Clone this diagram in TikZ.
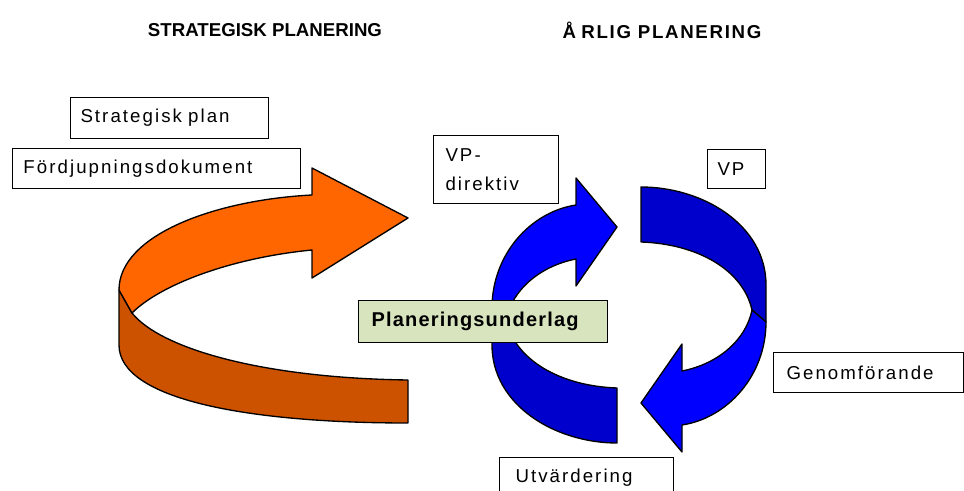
\documentclass[tikz,border=0pt]{standalone}
\usepackage{fontspec}
\setmainfont{Liberation Sans}
\newfontfamily\boxfont[LetterSpace=11]{Liberation Sans}
\newfontfamily\basisfont[LetterSpace=6]{Liberation Sans}
\newfontfamily\arligfont[LetterSpace=9]{Liberation Sans}
\usetikzlibrary{positioning}
\definecolor{orangelight}{RGB}{255,102,0}
\definecolor{orangedark}{RGB}{204,82,0}
\definecolor{bluelight}{RGB}{0,0,255}
\definecolor{bluedark}{RGB}{0,0,204}
\definecolor{underlag}{RGB}{215,228,189}
\tikzstyle{heading} = [font=\fontsize{14}{16}\selectfont\bfseries]
\tikzstyle{docbox} = [rectangle, draw, line width=0.75pt, fill=white, anchor=north west, align=left, font=\boxfont\fontsize{14}{22}\selectfont]
\tikzstyle{basisbox} = [docbox, fill=underlag, font=\basisfont\fontsize{15}{17}\selectfont\bfseries]
\tikzstyle{band} = [draw, line width=1pt, line join=round]

\begin{document}
\begin{tikzpicture}[x=0.75pt, y=-0.75pt]
        \useasboundingbox (0,0) rectangle (964,491);

        % Arrows
        \draw [band, fill=orangedark] (119,290) -- (119,345) .. controls (119,400) and (250,423) .. (408,423) -- (408,380) .. controls (260,378) and (160,348) .. (132,313) -- cycle;
        \draw [band, fill=orangelight] (312,195) -- (312,168) -- (408,218) -- (312,278) -- (312,250) .. controls (230,258) and (160,285) .. (132,313) -- (119,290) .. controls (119,235) and (215,200) .. (312,195) -- cycle;
        \foreach \ang in {0,180} {
            \begin{scope}[rotate around={\ang:(629,315)}]
                \draw [band, fill=bluedark] (492,308) -- (492,345) .. controls (492,405) and (555,443) .. (617,443) -- (617,388) .. controls (560,386) and (515,360) .. (506,320) -- cycle;
                \draw [band, fill=bluelight] (576,205) -- (576,178) -- (617,227) -- (576,286) -- (576,259) .. controls (540,266) and (512,290) .. (506,320) -- (492,308) .. controls (492,255) and (530,212) .. (576,205) -- cycle;
            \end{scope}
        }

        % Nodes
        \node [docbox, text width=133.5pt, minimum height=30.75pt, inner xsep=7.5pt] (splan) at (70,97) {Strategisk plan};
        \node [docbox, text width=199.5pt, minimum height=30pt, inner xsep=8.25pt] (fdok) at (12,148) {Fördjupningsdokument};
        \node [docbox, text width=75.75pt, minimum height=51pt, inner xsep=9pt] (vpdir) at (433,135) {VP-\\direktiv};
        \node [docbox, text width=28.5pt, minimum height=29.25pt, inner xsep=7.5pt] (vp) at (707,149) {VP};
        \node [basisbox, text width=167.25pt, minimum height=31.5pt, inner xsep=9.75pt] (underlag) at (358,300) {Planeringsunderlag};
        \node [docbox, text width=123pt, minimum height=30pt, inner xsep=9.75pt] (genom) at (773,352) {Genomförande};
        \node [docbox, text width=106.5pt, minimum height=30.75pt, inner xsep=12pt] (utv) at (499,457) {Utvärdering};

        % Labels
        \node [heading] (strat) at (265,30) {STRATEGISK PLANERING};
        \node [heading, font=\arligfont\fontsize{14}{16}\selectfont\bfseries] (arlig) at (662,30) {Å\kern4pt RLIG PLANERING};
    \end{tikzpicture}
\end{document}
